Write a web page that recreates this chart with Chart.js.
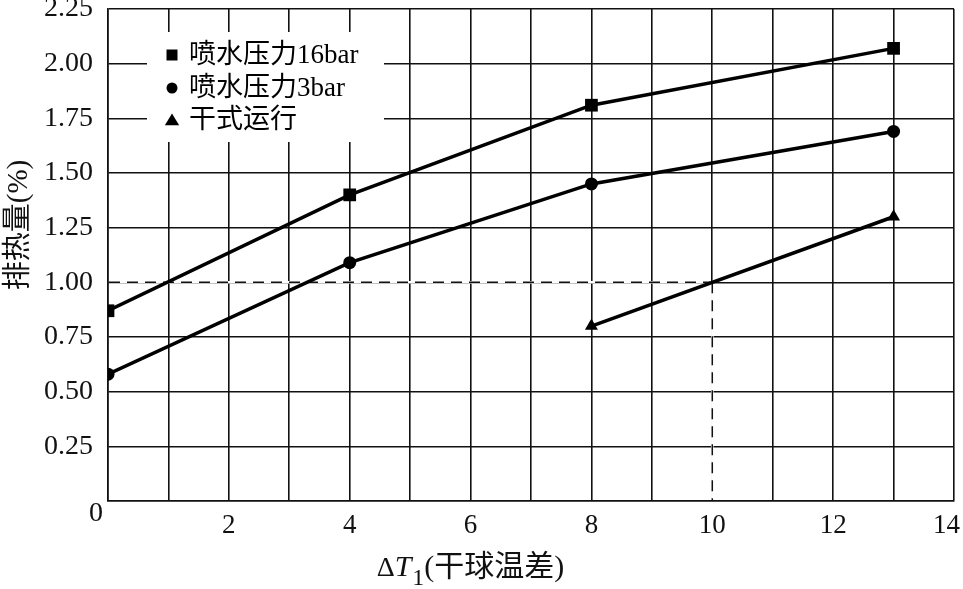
<!DOCTYPE html>
<html lang="zh">
<head>
  <meta charset="UTF-8" />
  <title>排热量</title>
  <script src="https://cdn.jsdelivr.net/npm/chart.js"></script>
  <style>
    html, body { margin: 0; padding: 0; background: #fff; }
    canvas { display: block; }
  </style>
</head>
<body>
  <canvas id="chart" width="963" height="589"></canvas>

  <script>
    // Daten
    const seriesLabels = ['喷水压力16bar', '喷水压力3bar', '干式运行'];
    const x16 = [0, 4, 8, 13];
    const y16 = [0.87, 1.40, 1.81, 2.07];
    const x3 = [0, 4, 8, 13];
    const y3 = [0.58, 1.09, 1.45, 1.69];
    const xDry = [8, 13];
    const yDry = [0.80, 1.30];
    const guideX = 10;   // gestrichelte Hilfslinie
    const guideY = 1.0;
    const xMax = 14;
    const xTitleParts = ['Δ', 'T', '1', '(干球温差)'];
    const yTitle = '排热量(%)';

    const FONT = "'Liberation Serif', 'Times New Roman', 'Noto Sans CJK SC', serif";
    const INK = '#111';

    const toPoints = (xs, ys) => xs.map((x, i) => ({ x: x, y: ys[i] }));

    function marker(ctx, style, x, y, r) {
      ctx.beginPath();
      if (style === 'rect') {
        ctx.rect(x - r, y - r, 2 * r, 2 * r);
      } else if (style === 'circle') {
        ctx.arc(x, y, r, 0, Math.PI * 2);
      } else {
        ctx.moveTo(x, y - r);
        ctx.lineTo(x + r * 1.1, y + r * 0.8);
        ctx.lineTo(x - r * 1.1, y + r * 0.8);
        ctx.closePath();
      }
      ctx.fill();
    }

    const extras = {
      id: 'extras',
      beforeDatasetsDraw(chart) {
        const { ctx, scales: { x, y } } = chart;
        const px = x.getPixelForValue(guideX);
        const py = y.getPixelForValue(guideY);
        ctx.save();
        const path = () => {
          ctx.beginPath();
          ctx.moveTo(x.left + 1, py); ctx.lineTo(px, py);
          ctx.moveTo(px, py); ctx.lineTo(px, y.bottom - 1);
        };
        ctx.strokeStyle = '#fff'; ctx.lineWidth = 2.5;
        path(); ctx.stroke();
        ctx.setLineDash([11, 7]);
        ctx.strokeStyle = INK; ctx.lineWidth = 1.5;
        path(); ctx.stroke();
        ctx.restore();
      },
      afterDatasetsDraw(chart) {
        const { ctx, chartArea } = chart;
        // Legende mit weißem Hintergrund
        const bx = chartArea.left + 39, by = chartArea.top + 23;
        ctx.save();
        ctx.fillStyle = '#fff';
        ctx.fillRect(bx, by, 237, 110);
        ctx.fillStyle = '#000';
        ctx.font = '27px ' + FONT;
        ctx.textBaseline = 'middle';
        ctx.textAlign = 'left';
        const rowY = [by + 23, by + 56, by + 88];
        const sizes = { rect: 5.5, circle: 5.5, triangle: 6.5 };
        chart.data.datasets.forEach((ds, i) => {
          marker(ctx, ds.pointStyle, bx + 25, rowY[i], sizes[ds.pointStyle]);
          ctx.fillText(ds.label, bx + 42, rowY[i] + 1);
        });
        ctx.restore();
      },
      afterDraw(chart) {
        const { ctx, scales: { x, y } } = chart;
        ctx.save();
        ctx.fillStyle = INK;
        ctx.font = '28px ' + FONT;
        ctx.textBaseline = 'middle';
        // "0" in der Ecke
        ctx.textAlign = 'center';
        ctx.fillText('0', x.left - 12, y.bottom + 13);
        // letzte Beschriftung "14" nach innen gerückt
        ctx.font = '27px ' + FONT;
        ctx.textAlign = 'right';
        ctx.fillText(String(xMax), x.getPixelForValue(xMax) + 6, y.bottom + 25);

        // y-Achsentitel
        ctx.save();
        ctx.translate(19, 225);
        ctx.rotate(-Math.PI / 2);
        ctx.textAlign = 'center';
        ctx.font = '29px ' + FONT;
        ctx.fillText(yTitle, 0, 0);
        ctx.restore();

        // x-Achsentitel mit kursivem T und tiefgestellter 1
        const fonts = ['28px ' + FONT, 'italic 30px ' + FONT, '24px ' + FONT, '30px ' + FONT];
        const shifts = [0, 0, 9, 0];
        const widths = xTitleParts.map((t, i) => { ctx.font = fonts[i]; return ctx.measureText(t).width; });
        const total = widths.reduce((a, b) => a + b, 0);
        let cx = 470 - total / 2;
        const base = 576;
        ctx.textAlign = 'left';
        ctx.textBaseline = 'alphabetic';
        xTitleParts.forEach((t, i) => {
          ctx.font = fonts[i];
          ctx.fillText(t, cx, base + shifts[i]);
          cx += widths[i] + (i === 1 ? 1 : 0);
        });
        ctx.restore();
      }
    };

    new Chart(document.getElementById('chart').getContext('2d'), {
      type: 'line',
      data: {
        datasets: [
          { label: seriesLabels[0], data: toPoints(x16, y16), pointStyle: 'rect', pointRadius: 9 },
          { label: seriesLabels[1], data: toPoints(x3, y3), pointStyle: 'circle', pointRadius: 6.5 },
          { label: seriesLabels[2], data: toPoints(xDry, yDry), pointStyle: 'triangle', pointRadius: 7.5 }
        ].map(ds => Object.assign(ds, {
          borderColor: '#000',
          backgroundColor: '#000',
          pointBackgroundColor: '#000',
          pointBorderWidth: 0,
          borderWidth: 3.5,
          tension: 0
        }))
      },
      options: {
        responsive: false,
        animation: false,
        layout: { padding: { top: 7, right: 7, left: 0, bottom: 0 } },
        plugins: {
          legend: { display: false },
          tooltip: { enabled: false }
        },
        scales: {
          x: {
            type: 'linear',
            min: 0,
            max: xMax,
            ticks: {
              stepSize: 1,
              autoSkip: false,
              maxRotation: 0,
              padding: 9,
              color: INK,
              font: { family: FONT, size: 27 },
              callback: v => (v !== 0 && v !== xMax && v % 2 === 0) ? String(v) : ''
            },
            grid: { color: INK, lineWidth: 1.6, drawTicks: false },
            border: { color: INK, width: 1.6 },
            afterFit(scale) {
              scale.height = 88;
              scale.paddingLeft = 0;
              scale.paddingRight = 0;
            }
          },
          y: {
            min: 0,
            max: 2.25,
            ticks: {
              stepSize: 0.25,
              padding: 15,
              color: INK,
              font: { family: FONT, size: 28 },
              callback: v => v === 0 ? '' : v.toFixed(2)
            },
            grid: { color: INK, lineWidth: 1.6, drawTicks: false },
            border: { color: INK, width: 1.6 },
            afterFit(scale) {
              scale.width = 108;
              scale.paddingTop = 0;
              scale.paddingBottom = 0;
            }
          }
        }
      },
      plugins: [extras]
    });
  </script>
</body>
</html>
